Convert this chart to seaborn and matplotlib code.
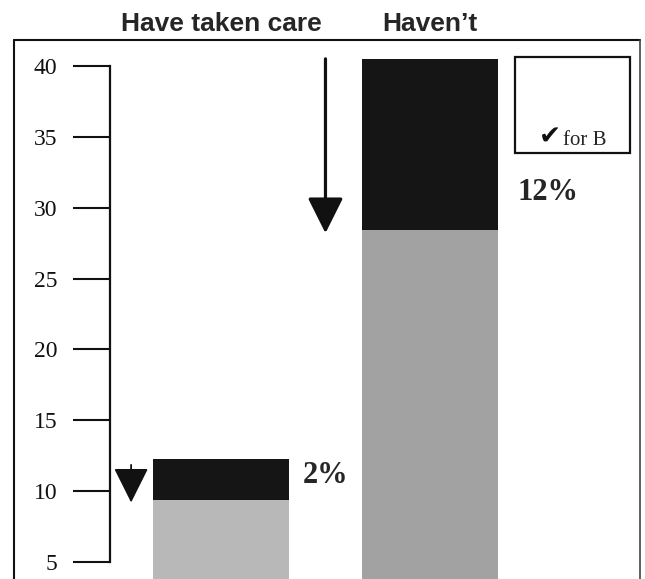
import matplotlib
matplotlib.use("Agg")
import matplotlib.pyplot as plt
import seaborn as sns
from matplotlib.lines import Line2D
from matplotlib.patches import Rectangle

# data
groups = ["Have taken care", "Haven\u2019t"]
lower_part = [9.4, 28.4]     # light grey segment (top of it)
bar_total = [12.3, 40.5]     # top of the dark segment
pct_labels = ["2%", "12%"]
y_ticks = [5, 10, 15, 20, 25, 30, 35, 40]

W, H = 645, 579
sns.set_style("white")
plt.rcParams["font.family"] = ["Liberation Serif", "DejaVu Sans"]

fig = plt.figure(figsize=(W / 100, H / 100), dpi=100)
# axes: y spine at x=110px, top frame at y=40px
ax = fig.add_axes([110 / W, 0, (640 - 110) / W, (H - 40) / H])

dark = ["#151515", "#151515"]
light = ["#b8b8b8", "#a2a2a2"]
sns.barplot(x=groups, y=bar_total, hue=groups, palette=dark, legend=False,
            width=0.65, linewidth=0, ax=ax)
sns.barplot(x=groups, y=lower_part, hue=groups, palette=light, legend=False,
            width=0.65, linewidth=0, ax=ax)

ax.set_ylim(3.8, 41.83)
ax.set_xlim(-0.531, 2.005)
ax.set_yticks(y_ticks)
ax.set_yticklabels([str(t) for t in y_ticks], fontsize=17)
ax.tick_params(axis="y", left=True, direction="out", length=27, width=1.5,
               pad=11, colors="#111111")
ax.set_ylabel("")
ax.set_xlabel("")

# group names on top
ax.xaxis.tick_top()
ax.tick_params(axis="x", length=0, pad=3)
for lab in ax.get_xticklabels():
    lab.set_fontfamily("Liberation Sans")
    lab.set_fontweight("bold")
    lab.set_fontsize(19)

for s in ["top", "right", "bottom"]:
    ax.spines[s].set_visible(False)
ax.spines["left"].set_bounds(5, 40)
ax.spines["left"].set_linewidth(1.6)
ax.spines["left"].set_color("#111111")

# arrows from top of bar down to the change point
arrow_offsets = [0.43, 0.50]
shaft_w = [1.3, 2.3]
start_drop = [0.45, 0.0]
for i in range(len(groups)):
    x = i - arrow_offsets[i]
    ax.annotate("", xy=(x, lower_part[i] - 0.2),
                xytext=(x, bar_total[i] - start_drop[i]),
                arrowprops=dict(arrowstyle="-|>,head_length=1.1,head_width=0.55",
                                mutation_scale=20, lw=shaft_w[i], color="#111111",
                                shrinkA=0, shrinkB=0))

# percentage labels next to the dark part
label_y = [11.1, 31.1]
label_dx = [0.39, 0.42]
for i in range(len(groups)):
    ax.text(i + label_dx[i], label_y[i], pct_labels[i], fontsize=22,
            fontweight="bold", va="center", ha="left")

# frame around the whole chart
fy = 1 - 40 / H
fig.add_artist(Line2D([14 / W, 640 / W], [fy, fy], transform=fig.transFigure,
                      color="#111111", lw=1.5))
fig.add_artist(Line2D([14 / W, 14 / W], [0, fy], transform=fig.transFigure,
                      color="#111111", lw=1.5))
fig.add_artist(Line2D([640 / W, 640 / W], [0, fy], transform=fig.transFigure,
                      color="#444444", lw=1.2))

# small key box
fig.add_artist(Rectangle((515 / W, 1 - 153 / H), 115 / W, 96 / H,
                         transform=fig.transFigure, fill=False,
                         ec="#111111", lw=1.6))
fig.text(561 / W, 1 - 145 / H, "\u2714", fontsize=19, ha="right",
         va="baseline", family="DejaVu Sans", color="#111111")
fig.text(563 / W, 1 - 145 / H, "for B", fontsize=15, ha="left",
         va="baseline", family="Liberation Serif")

fig.savefig("out.png", dpi=100)
